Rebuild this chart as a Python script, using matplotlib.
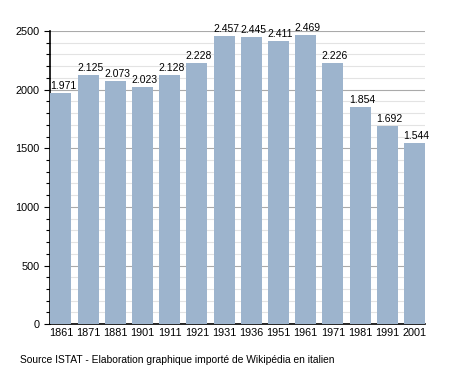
import matplotlib
matplotlib.use("Agg")
import matplotlib.pyplot as plt
from matplotlib.ticker import MultipleLocator

years = ["1861", "1871", "1881", "1901", "1911", "1921", "1931",
         "1936", "1951", "1961", "1971", "1981", "1991", "2001"]
population = [1971, 2125, 2073, 2023, 2128, 2228, 2457,
              2445, 2411, 2469, 2226, 1854, 1692, 1544]
labels = ["1.971", "2.125", "2.073", "2.023", "2.128", "2.228", "2.457",
          "2.445", "2.411", "2.469", "2.226", "1.854", "1.692", "1.544"]

plt.rcParams['font.family'] = ['Liberation Sans', 'DejaVu Sans']

fig = plt.figure(figsize=(4.55, 3.73), dpi=100)
ax = fig.add_axes([0.1099, 0.131, 0.824, 0.786])

x = range(len(years))
ax.bar(x, population, width=0.77, color="#9db4cd", zorder=3)
for i, (v, lab) in enumerate(zip(population, labels)):
    ax.annotate(lab, (i, v), xytext=(1.5, 1.5), textcoords="offset points",
                ha="center", va="bottom", fontsize=7.5, zorder=4)

ax.set_xlim(-0.40, len(years) - 0.615)
ax.set_ylim(0, 2500)
ax.set_xticks(list(x))
ax.set_xticklabels(years, fontsize=7.8)
ax.yaxis.set_major_locator(MultipleLocator(500))
ax.yaxis.set_minor_locator(MultipleLocator(100))
ax.tick_params(axis="y", labelsize=7.8, length=4, width=0.8)
ax.tick_params(axis="y", which="minor", length=3, width=0.8)
ax.tick_params(axis="x", length=0, pad=3)

ax.grid(axis="y", which="major", color="#aaaaaa", linewidth=0.8, zorder=0)
ax.grid(axis="y", which="minor", color="#e3e3e3", linewidth=0.8, zorder=0)

for s in ["top", "right"]:
    ax.spines[s].set_visible(False)
ax.spines["left"].set_linewidth(1.2)
ax.spines["bottom"].set_linewidth(1.2)

fig.text(0.044, 0.022, "Source ISTAT - Elaboration graphique importé de Wikipédia en italien",
         fontsize=7.4, ha="left", va="bottom")

fig.savefig("out.png", dpi=100)
